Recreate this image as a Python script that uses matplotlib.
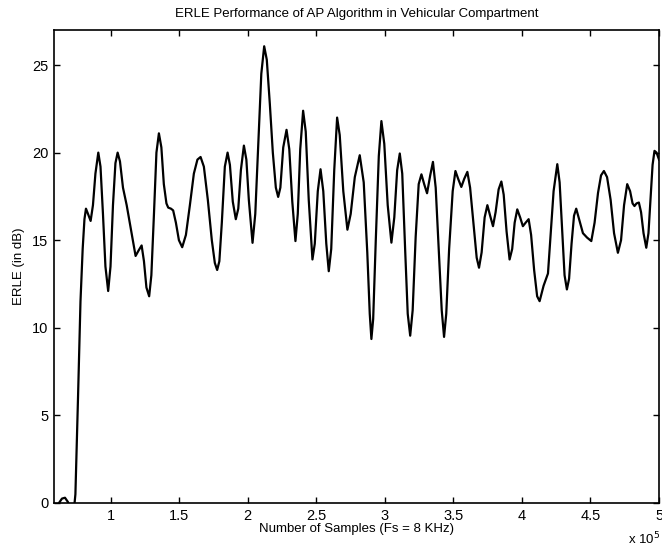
import numpy as np
import matplotlib
matplotlib.use("Agg")
import matplotlib.pyplot as plt

# sample index in units of 1e5 samples, ERLE in dB
samples_1e5 = [0.587, 0.623, 0.645, 0.667, 0.689, 0.711, 0.732, 0.743, 0.762, 0.780,
               0.796, 0.809, 0.820, 0.835, 0.854, 0.871, 0.889, 0.910, 0.926, 0.944,
               0.962, 0.982, 0.999, 1.017, 1.035, 1.051, 1.068, 1.090, 1.117, 1.148,
               1.182, 1.203, 1.226, 1.243, 1.261, 1.281, 1.297, 1.316, 1.334, 1.352,
               1.370, 1.388, 1.407, 1.420, 1.440, 1.456, 1.476, 1.498, 1.522, 1.549,
               1.578, 1.607, 1.633, 1.656, 1.680, 1.709, 1.738, 1.760, 1.777, 1.793,
               1.811, 1.833, 1.853, 1.870, 1.891, 1.913, 1.931, 1.950, 1.972, 1.990,
               2.008, 2.035, 2.055, 2.077, 2.099, 2.120, 2.139, 2.161, 2.183, 2.205,
               2.222, 2.238, 2.259, 2.283, 2.303, 2.325, 2.348, 2.365, 2.383, 2.404,
               2.423, 2.445, 2.472, 2.489, 2.511, 2.531, 2.551, 2.573, 2.591, 2.609,
               2.631, 2.652, 2.671, 2.697, 2.727, 2.751, 2.781, 2.817, 2.846, 2.872,
               2.890, 2.902, 2.915, 2.934, 2.956, 2.975, 2.996, 3.021, 3.048, 3.069,
               3.090, 3.109, 3.127, 3.149, 3.167, 3.185, 3.203, 3.225, 3.247, 3.267,
               3.287, 3.308, 3.331, 3.351, 3.371, 3.393, 3.415, 3.432, 3.448, 3.469,
               3.495, 3.515, 3.535, 3.558, 3.579, 3.602, 3.622, 3.648, 3.670, 3.687,
               3.706, 3.728, 3.748, 3.768, 3.789, 3.808, 3.830, 3.850, 3.867, 3.888,
               3.910, 3.929, 3.947, 3.966, 3.987, 4.007, 4.027, 4.049, 4.067, 4.089,
               4.111, 4.129, 4.158, 4.190, 4.209, 4.231, 4.258, 4.275, 4.293, 4.311,
               4.328, 4.344, 4.362, 4.380, 4.396, 4.417, 4.445, 4.475, 4.506, 4.530,
               4.555, 4.577, 4.598, 4.621, 4.647, 4.672, 4.700, 4.723, 4.745, 4.768,
               4.789, 4.807, 4.821, 4.836, 4.853, 4.869, 4.887, 4.907, 4.923, 4.938,
               4.953, 4.967, 4.982, 5.000]

erle_db = [-0.6, 0.0, 0.25, 0.3, 0.05, -0.8, -0.4, 0.5, 6.0, 11.5,
           14.5, 16.2, 16.8, 16.5, 16.1, 17.0, 18.8, 20.0, 19.2, 16.5,
           13.5, 12.1, 13.5, 17.0, 19.4, 20.0, 19.5, 18.0, 17.0, 15.6,
           14.1, 14.4, 14.7, 13.8, 12.3, 11.8, 13.0, 16.5, 20.0, 21.1,
           20.3, 18.2, 17.1, 16.86, 16.8, 16.7, 16.0, 15.0, 14.6, 15.3,
           17.0, 18.8, 19.6, 19.75, 19.2, 17.3, 15.0, 13.7, 13.3, 13.8,
           16.0, 19.2, 20.0, 19.3, 17.2, 16.2, 16.8, 19.0, 20.4, 19.6,
           17.3, 14.85, 16.5, 20.5, 24.5, 26.07, 25.3, 22.8, 20.0, 18.0,
           17.47, 18.0, 20.3, 21.3, 20.2, 17.2, 14.95, 16.5, 20.2, 22.39,
           21.2, 17.3, 13.9, 14.8, 17.8, 19.05, 17.8, 14.8, 13.23, 14.5,
           19.0, 22.0, 21.0, 17.8, 15.6, 16.5, 18.6, 19.85, 18.3, 14.3,
           10.8, 9.36, 10.5, 15.0, 19.8, 21.8, 20.5, 17.0, 14.86, 16.3,
           19.0, 19.95, 18.8, 14.3, 10.8, 9.55, 11.0, 15.2, 18.2, 18.76,
           18.2, 17.68, 18.7, 19.47, 18.0, 14.5, 11.0, 9.48, 10.8, 14.5,
           17.8, 18.95, 18.5, 18.04, 18.5, 18.9, 18.0, 15.8, 14.0, 13.43,
           14.3, 16.3, 17.0, 16.4, 15.8, 16.6, 17.9, 18.35, 17.6, 15.5,
           13.9, 14.5, 16.0, 16.76, 16.3, 15.8, 16.0, 16.2, 15.3, 13.3,
           11.8, 11.52, 12.4, 13.1, 15.3, 17.8, 19.34, 18.3, 15.6, 13.0,
           12.19, 12.8, 14.8, 16.4, 16.8, 16.2, 15.4, 15.15, 14.95, 16.0,
           17.7, 18.7, 18.95, 18.6, 17.3, 15.4, 14.28, 15.0, 17.0, 18.2,
           17.8, 17.1, 16.95, 17.1, 17.15, 16.6, 15.4, 14.57, 15.4, 17.3,
           19.3, 20.1, 20.0, 19.6]

x_ticks = [1, 1.5, 2, 2.5, 3, 3.5, 4, 4.5, 5]
x_tick_labels = ['1', '1.5', '2', '2.5', '3', '3.5', '4', '4.5', '5']
y_ticks = [0, 5, 10, 15, 20, 25]

plt.rcParams['font.family'] = ['Liberation Sans', 'DejaVu Sans']

fig = plt.figure(figsize=(6.62, 5.52), dpi=100)
ax = fig.add_axes([0.0816, 0.0888, 0.9139, 0.8569])
ax.plot(samples_1e5, erle_db, color='black', linewidth=1.6,
        solid_joinstyle='round')

ax.set_xlim(0.587, 5.0)
ax.set_ylim(0, 27)
ax.set_xticks(x_ticks)
ax.set_xticklabels(x_tick_labels)
ax.set_yticks(y_ticks)
ax.tick_params(direction='in', top=True, right=True, length=4, width=1,
               labelsize=10.5, pad=4)
for s in ax.spines.values():
    s.set_linewidth(1.2)

ax.set_title('ERLE Performance of AP Algorithm in Vehicular Compartment',
             fontsize=9.5, pad=9)
ax.set_xlabel('Number of Samples (Fs = 8 KHz)', fontsize=9.5, labelpad=0)
ax.set_ylabel('ERLE (in dB)', fontsize=9.5, labelpad=5)
fig.text(0.997, 0.008, r'x 10$^5$', fontsize=9.5, ha='right', va='bottom')

fig.savefig('out.png', dpi=100)
